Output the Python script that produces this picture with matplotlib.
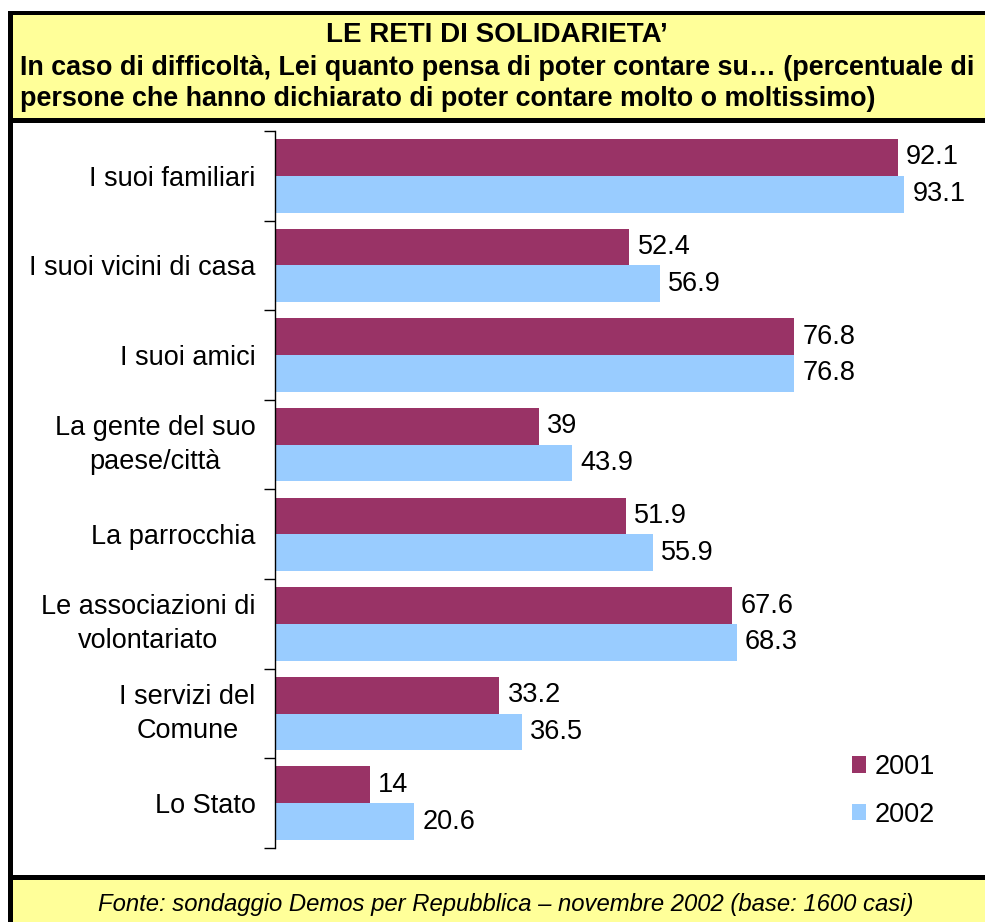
import matplotlib
matplotlib.use("Agg")
import matplotlib.pyplot as plt
from matplotlib.patches import Rectangle
import numpy as np

plt.rcParams['font.family'] = ['Liberation Sans', 'DejaVu Sans']

categories = ["I suoi familiari", "I suoi vicini di casa", "I suoi amici",
              "La gente del suo\npaese/città", "La parrocchia",
              "Le associazioni di\nvolontariato", "I servizi del\nComune", "Lo Stato"]
values_2001 = [92.1, 52.4, 76.8, 39, 51.9, 67.6, 33.2, 14]
values_2002 = [93.1, 56.9, 76.8, 43.9, 55.9, 68.3, 36.5, 20.6]
series_labels = ["2001", "2002"]
labels_2001 = ["92.1", "52.4", "76.8", "39", "51.9", "67.6", "33.2", "14"]
labels_2002 = ["93.1", "56.9", "76.8", "43.9", "55.9", "68.3", "36.5", "20.6"]

title = "LE RETI DI SOLIDARIETA’"
subtitle_1 = "In caso di difficoltà, Lei quanto pensa di poter contare su… (percentuale di"
subtitle_2 = "persone che hanno dichiarato di poter contare molto o moltissimo)"
footer = "Fonte: sondaggio Demos per Repubblica – novembre 2002 (base: 1600 casi)"

C2001 = "#993366"
C2002 = "#99CCFF"
YELLOW = "#FFFF99"

W, H = 985, 922
fig = plt.figure(figsize=(W / 100, H / 100), dpi=100)
fig.patch.set_facecolor("white")


def px_rect(x0, y0, x1, y1, color, z=0):
    fig.add_artist(Rectangle((x0 / W, 1 - y1 / H), (x1 - x0) / W, (y1 - y0) / H,
                             transform=fig.transFigure, facecolor=color,
                             edgecolor="none", zorder=z))


# yellow boxes
px_rect(12, 15, W + 5, 118, YELLOW)
px_rect(12, 880, W + 5, H + 5, YELLOW)
# black borders
px_rect(8, 11, W + 5, 15, "black", 1)
px_rect(8, 11, 12.5, H + 5, "black", 1)
px_rect(8, 118, W + 5, 123, "black", 1)
px_rect(8, 875, W + 5, 880, "black", 1)

fig.text(497 / W, 1 - 35 / H, title, ha="center", va="center",
         fontsize=20, fontweight="bold")
fig.text(20 / W, 1 - 68 / H, subtitle_1, ha="left", va="center",
         fontsize=19.4, fontweight="bold")
fig.text(20 / W, 1 - 99 / H, subtitle_2, ha="left", va="center",
         fontsize=19.4, fontweight="bold")
fig.text(506 / W, 1 - 904 / H, footer, ha="center", va="center",
         fontsize=17.2, style="italic")

# axes
left, right_px, top_px, bot_px = 275, 951, 131, 848
ax = fig.add_axes([left / W, 1 - bot_px / H, (right_px - left) / W, (bot_px - top_px) / H])
ax.set_facecolor("none")

n = len(categories)
y = np.arange(n)
h = 0.41
b1 = ax.barh(y - h / 2, values_2001, height=h, color=C2001, label=series_labels[0])
b2 = ax.barh(y + h / 2, values_2002, height=h, color=C2002, label=series_labels[1])
ax.bar_label(b1, labels=labels_2001, padding=6, fontsize=19.5)
ax.bar_label(b2, labels=labels_2002, padding=6, fontsize=19.5)

ax.set_xlim(0, 100)
ax.set_ylim(n - 0.5, -0.5)

for s in ["top", "right", "bottom"]:
    ax.spines[s].set_visible(False)
ax.spines["left"].set_linewidth(1.0)
ax.set_xticks([])

ax.set_yticks(np.arange(-0.5, n, 1.0))
ax.set_yticklabels([])
ax.tick_params(axis="y", which="major", length=8, width=1, direction="out")
ax.set_yticks(y, minor=True)
ax.set_yticklabels(categories, minor=True, fontsize=19.5)
ax.tick_params(axis="y", which="minor", length=0, pad=14)
for lab in ax.get_yticklabels(minor=True):
    lab.set_multialignment("center")
    lab.set_linespacing(1.4)
    if "\n" in lab.get_text():
        lab.set_verticalalignment("center")

leg = ax.legend(loc="center left", bbox_to_anchor=(838 / W, 1 - 791 / H),
                bbox_transform=fig.transFigure, frameon=False, fontsize=19.5,
                handlelength=0.55, handleheight=0.55, handletextpad=0.3,
                labelspacing=0.8, borderpad=0)

fig.savefig("out.png", dpi=100)
